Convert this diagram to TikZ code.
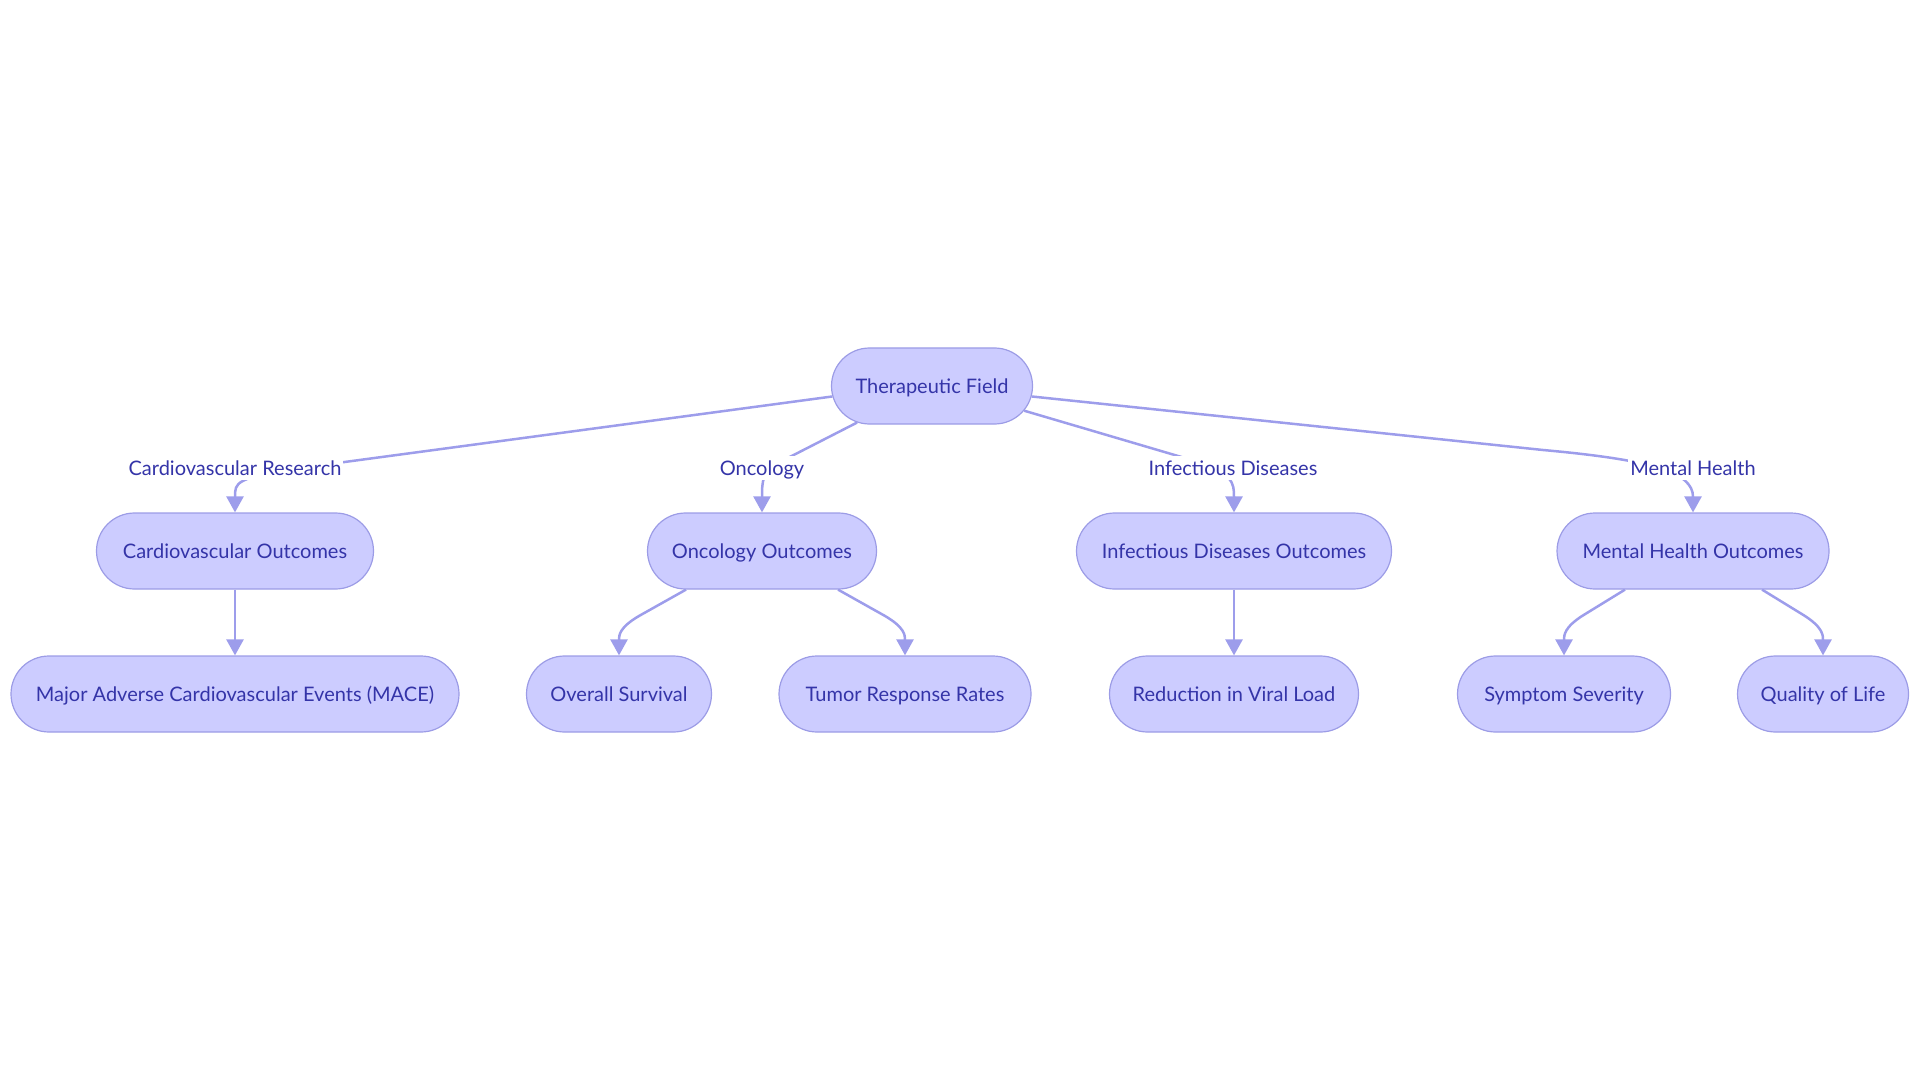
\documentclass[tikz,border=0pt]{standalone}
\usepackage{fontspec}
\setmainfont{Lato}
\usepackage{tikz}
\usetikzlibrary{
    positioning,
    arrows.meta,
    shapes.misc,
    calc,
    backgrounds,
}
\definecolor{nodefill}{HTML}{CCCCFF}
\definecolor{nodeline}{HTML}{9C9CE6}
\definecolor{nodetext}{HTML}{3434A8}
\definecolor{edgecol}{HTML}{9D9DEB}

\begin{document}
\begin{tikzpicture}[
    x=0.5pt, y=-0.5pt,
    box/.style={rounded rectangle, draw=nodeline, line width=0.6pt, fill=nodefill,
                text=nodetext, minimum height=38pt, inner sep=0pt,
                text height=8.5pt, text depth=1.1pt,
                font=\fontsize{10}{12}\selectfont},
    lbl/.style={fill=white, text=nodetext, inner sep=1pt,
                text height=8.5pt, text depth=1.1pt,
                font=\fontsize{10}{12}\selectfont},
    arrow/.style={-{Triangle[length=8pt, width=8.5pt]}, line width=1.25pt, draw=edgecol},
]
    \useasboundingbox (0,0) rectangle (1920,1080);

    % Root
    \node[box, minimum width=100.5pt] (root) at (932,386) {Therapeutic Field};

    % Field labels
    \node[lbl] (lcar) at (235,468) {Cardiovascular Research};
    \node[lbl] (lonc) at (762,468) {Oncology};
    \node[lbl] (linf) at (1233,468) {Infectious Diseases};
    \node[lbl] (lmen) at (1693,468) {Mental Health};

    % Outcomes
    \node[box, minimum width=138.5pt] (car) at (235,551) {Cardiovascular Outcomes};
    \node[box, minimum width=114.5pt] (onc) at (762,551) {Oncology Outcomes};
    \node[box, minimum width=157.5pt] (inf) at (1234,551) {Infectious Diseases Outcomes};
    \node[box, minimum width=136pt] (men) at (1693,551) {Mental Health Outcomes};

    % Measures
    \node[box, minimum width=224pt] (mace) at (235,694) {Major Adverse Cardiovascular Events (MACE)};
    \node[box, minimum width=92.5pt] (os) at (619,694) {Overall Survival};
    \node[box, minimum width=126pt] (trr) at (905,694) {Tumor Response Rates};
    \node[box, minimum width=124.5pt] (viral) at (1234,694) {Reduction in Viral Load};
    \node[box, minimum width=106.5pt] (sev) at (1564,694) {Symptom Severity};
    \node[box, minimum width=85.5pt] (qol) at (1823,694) {Quality of Life};

    % Arrows
    \begin{scope}[on background layer]
        \draw[arrow] (root.186) -- ($(lcar)+(65,0)$)
            .. controls ($(lcar)+(0,10)$) and ($(car.north)+(0,-30)$) .. (car.north);
        \draw[arrow] (root.206) -- ($(lonc)+(18,-6)$)
            .. controls ($(lonc)+(0,2)$) and ($(onc.north)+(0,-30)$) .. (onc.north);
        \draw[arrow] (root.345) -- ($(linf)+(-38,-7)$)
            .. controls ($(linf)+(0,6)$) and ($(inf.north)+(0,-30)$) .. (inf.north);
        \draw[arrow] (root.354) -- ($(lmen)+(-150,-18)$)
            .. controls ($(lmen)+(-40,-8)$) and ($(men.north)+(0,-40)$) .. (men.north);

        \draw[arrow] (car.south) -- (mace.north);
        \draw[arrow] ([xshift=-38pt]onc.south) -- ($(os.north)+(21,-40)$)
            .. controls ($(os.north)+(0,-28)$) and ($(os.north)+(0,-20)$) .. (os.north);
        \draw[arrow] ([xshift=38pt]onc.south) -- ($(trr.north)+(-21,-40)$)
            .. controls ($(trr.north)+(0,-28)$) and ($(trr.north)+(0,-20)$) .. (trr.north);
        \draw[arrow] (inf.south) -- (viral.north);
        \draw[arrow] ([xshift=-34pt]men.south) -- ($(sev.north)+(19,-40)$)
            .. controls ($(sev.north)+(0,-28)$) and ($(sev.north)+(0,-20)$) .. (sev.north);
        \draw[arrow] ([xshift=34.5pt]men.south) -- ($(qol.north)+(-19,-40)$)
            .. controls ($(qol.north)+(0,-28)$) and ($(qol.north)+(0,-20)$) .. (qol.north);
    \end{scope}
\end{tikzpicture}
\end{document}
